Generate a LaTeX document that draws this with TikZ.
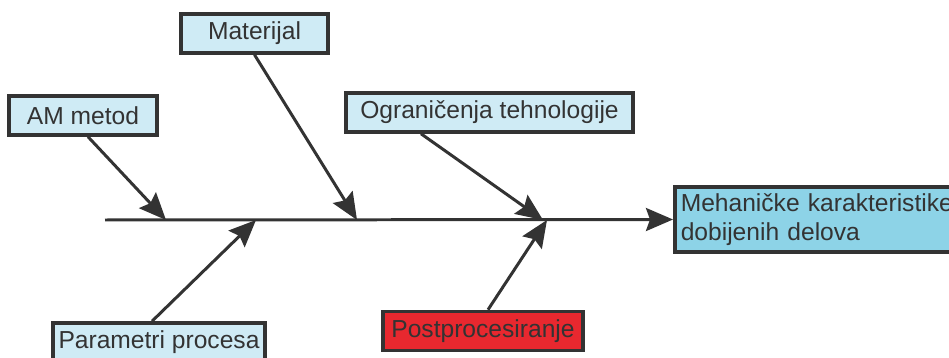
\documentclass[tikz,border=0pt]{standalone}
\usepackage{fontspec}
\setmainfont{Liberation Sans}
\usepackage{xcolor}
\usepackage{tikz}
\usetikzlibrary{calc,arrows.meta}
\definecolor{ink}{HTML}{333333}
\definecolor{pale}{HTML}{CFEBF5}
\definecolor{sky}{HTML}{8DD3E7}
\definecolor{alarm}{HTML}{E8282F}
\tikzset{
  cause/.style={draw=ink, line width=2pt, fill=pale, text=ink, inner sep=0pt,
    minimum height=0.78cm, font=\fontsize{14}{16.5}\selectfont},
  effect/.style={cause, fill=sky, anchor=west, align=left, minimum height=1.3cm,
    inner xsep=0.12cm},
  bone/.style={draw=ink, line width=1.7pt,
    -{Stealth[length=0.54cm, width=0.46cm, inset=0.08cm]}},
}

\begin{document}
\begin{tikzpicture}
  \clip (0,0) rectangle (18.98,7.16);
  \useasboundingbox (0,0) rectangle (18.98,7.16);
  % causes and effect
  \node[cause, minimum width=2.94cm] (mat) at (5.09,6.49) {Materijal};
  \node[cause, minimum width=2.96cm] (am) at (1.66,4.85) {AM metod};
  \node[cause, minimum width=5.74cm] (ogr) at (9.79,4.91) {Ograničenja tehnologije};
  \node[cause, minimum width=4.24cm] (par) at (3.18,0.31) {Parametri procesa};
  \node[cause, fill=alarm, minimum width=4.0cm] (post) at (9.66,0.54) {Postprocesiranje};
  \node[effect, text width=6cm] (meh) at (13.46,2.77)
    {Mehaničke karakteristike\\dobijenih delova};
  % spine
  \coordinate (tail) at (2.10,2.76);
  \foreach \n/\x in {t1/3.32,t2/5.12,t3/7.14,t4/10.86,t5/10.94}
    \coordinate (\n) at (\x,2.76);
  \draw[bone] (tail) -- (meh.west);
  % bones
  \draw[bone] ([xshift=0.1cm]am.south) -- (t1);
  \draw[bone] (mat.south) -- (t3);
  \draw[bone] ([xshift=-1.37cm]ogr.south) -- (t4);
  \draw[bone] ([xshift=-0.14cm]par.north) -- (t2);
  \draw[bone] ([xshift=0.1cm]post.north) -- (t5);
\end{tikzpicture}
\end{document}
